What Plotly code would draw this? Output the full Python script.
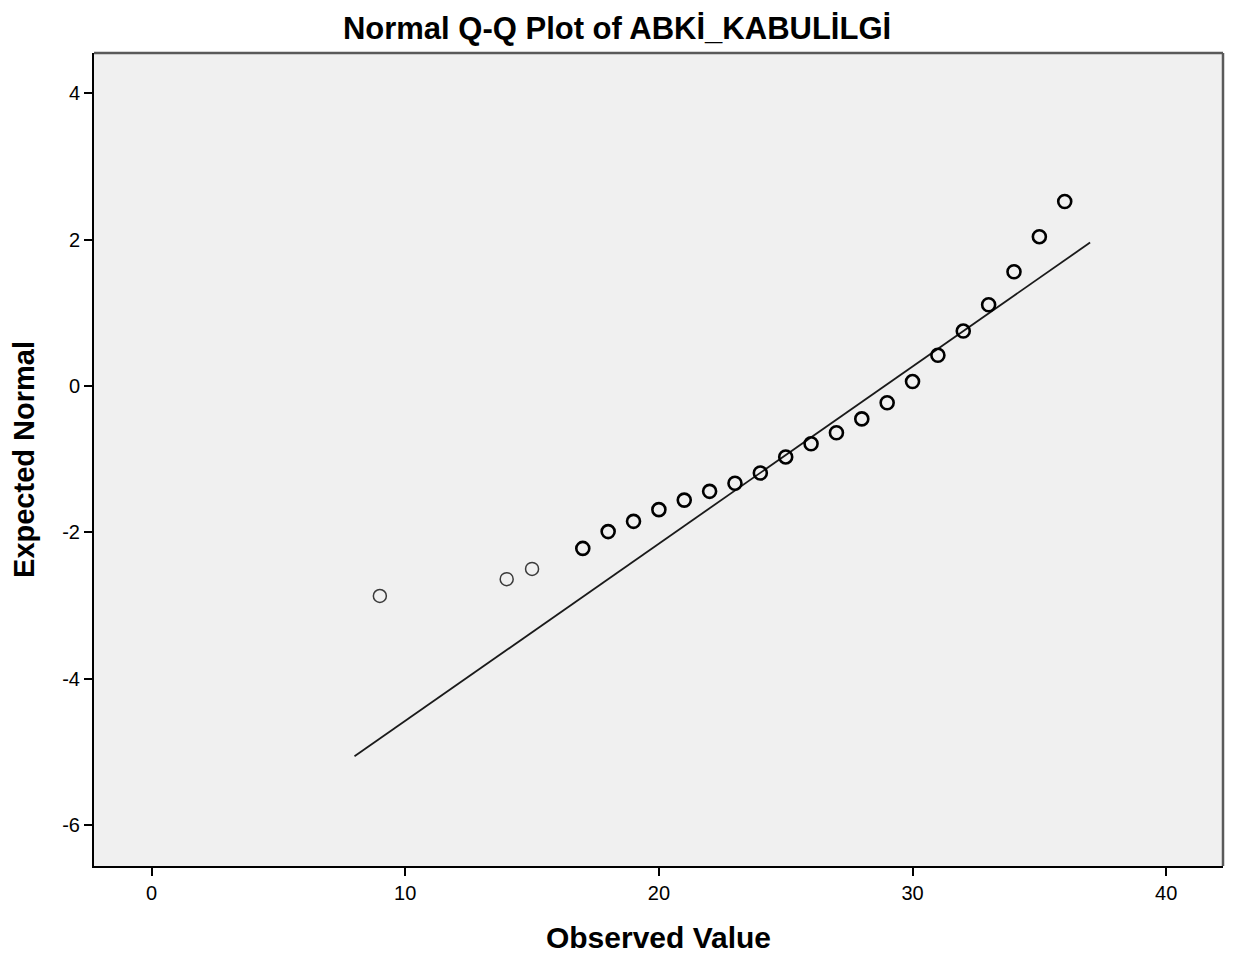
import plotly.graph_objects as go

observed = [9, 14, 15, 17, 18, 19, 20, 21, 22, 23, 24, 25, 26, 27, 28, 29, 30, 31, 32, 33, 34, 35, 36]
expected = [-2.87, -2.64, -2.50, -2.22, -1.99, -1.85, -1.69, -1.56, -1.44, -1.33, -1.19, -0.97,
            -0.79, -0.64, -0.45, -0.23, 0.06, 0.42, 0.75, 1.11, 1.56, 2.04, 2.52]
case_counts = [1, 1, 1, 2, 2, 2, 2, 2, 2, 2, 2, 2, 2, 2, 2, 2, 2, 2, 2, 2, 2, 2, 2]
line_x = [8, 37]
line_y = [-5.06, 1.96]
x_ticks = [0, 10, 20, 30, 40]
x_tick_labels = ["0", "10", "20", "30", "40"]
y_ticks = [4, 2, 0, -2, -4, -6]
y_tick_labels = ["4", "2", "0", "-2", "-4", "-6"]

widths = [1.5 if c == 1 else 2.6 for c in case_counts]
colors = ["#3a3a3a" if c == 1 else "#000000" for c in case_counts]

FONT = "Liberation Sans, Arial, sans-serif"

fig = go.Figure()
fig.add_trace(go.Scatter(x=line_x, y=line_y, mode="lines",
                         line=dict(color="#1a1a1a", width=1.8), showlegend=False,
                         hoverinfo="skip"))
fig.add_trace(go.Scatter(x=observed, y=expected, mode="markers",
                         marker=dict(symbol="circle-open", size=13, color=colors,
                                     line=dict(width=widths, color=colors)),
                         showlegend=False))

axis_common = dict(showgrid=False, zeroline=False, showline=True, linecolor="#000000",
                   linewidth=2, mirror=False, ticks="outside", ticklen=8, tickwidth=1.5,
                   tickcolor="#000000",
                   tickfont=dict(family=FONT, size=20, color="#000000"))

fig.update_layout(
    width=1218, height=946,
    margin=dict(l=86, r=3, t=45, b=86),
    paper_bgcolor="#ffffff", plot_bgcolor="#f0f0f0",
    title=dict(text="<b>Normal Q-Q Plot of ABKİ_KABULİLGİ</b>", x=0.5, xanchor="center",
               y=0.979, yanchor="middle",
               font=dict(family=FONT, size=31, color="#000000")),
    xaxis=dict(axis_common, range=[-2.27, 42.24], tickvals=x_ticks, ticktext=x_tick_labels,
               title=dict(text="<b>Observed Value</b>", standoff=26,
                          font=dict(family=FONT, size=30, color="#000000"))),
    yaxis=dict(axis_common, range=[-6.56, 4.55], tickvals=y_ticks, ticktext=y_tick_labels,
               title=dict(text="<b>Expected Normal</b>", standoff=20,
                          font=dict(family=FONT, size=29, color="#000000"))),
    shapes=[
        dict(type="line", xref="paper", yref="paper", x0=0, x1=1, y0=1, y1=1,
             line=dict(color="#5a5a5a", width=2.5)),
        dict(type="line", xref="paper", yref="paper", x0=1, x1=1, y0=0, y1=1,
             line=dict(color="#5a5a5a", width=2.5)),
    ],
)

fig.write_html("out.html")
